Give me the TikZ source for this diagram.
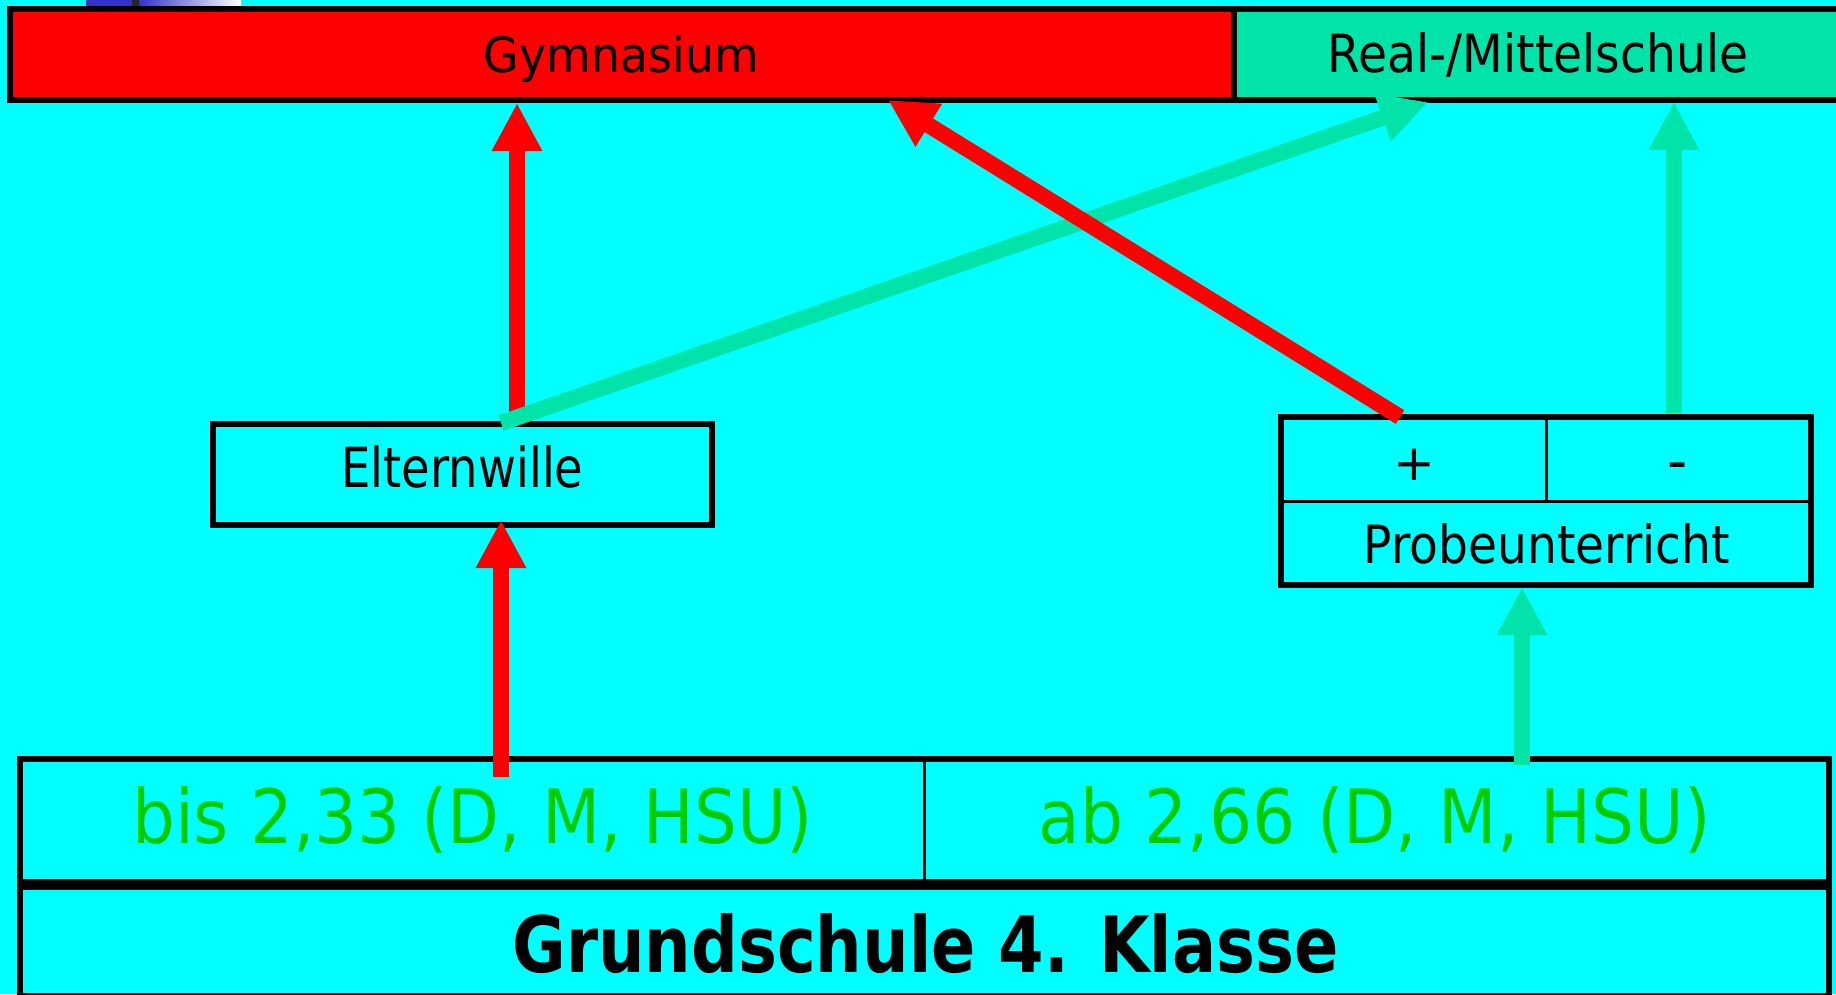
\documentclass[tikz,border=0pt]{standalone}
\usepackage{fontspec}
\setmainfont{DejaVu Sans}
\usepackage{graphicx}
\usetikzlibrary{arrows.meta}
\definecolor{bgcyan}{HTML}{00FFFF}
\definecolor{gymred}{HTML}{FF0000}
\definecolor{realgreen}{HTML}{00E4AA}
\definecolor{gradegreen}{HTML}{00CC00}
\definecolor{sliverblue}{HTML}{3333CC}
\begin{document}
\begin{tikzpicture}[x=1pt,y=-1pt,
  frame/.style={draw=black,line width=6pt},
  thinrule/.style={draw=black,line width=3pt},
  txt/.style={inner sep=0pt,anchor=base},
  redarrow/.style={draw=gymred,line width=16pt,-{Triangle[length=48pt,width=47pt]}},
  greenarrow/.style={draw=realgreen,line width=16pt,-{Triangle[length=48pt,width=47pt]}}]
\path[use as bounding box] (0,0) rectangle (1836,994);
\fill[bgcyan] (0,0) rectangle (1836,994);
\clip (0,0) rectangle (1836,994);
% sliver at the top left
\fill[sliverblue] (86,0) rectangle (132,6);
\fill[black!85] (132,0) rectangle (139,6);
\shade[left color=sliverblue,right color=white] (139,0) rectangle (241,6);
% top bar
\draw[frame,fill=gymred] (10,9) rectangle (1234,100);
\draw[frame,fill=realgreen] (1234,9) rectangle (1860,100);
\node[txt] (gym) at (621.5,72) {\resizebox{275pt}{37pt}{Gymnasium}};
\node[txt] (real) at (1538,72) {\resizebox{420pt}{40pt}{Real-/Mittelschule}};
% Elternwille
\draw[frame] (213,424) rectangle (712,525);
\node[txt] (elt) at (462.5,487) {\resizebox{242pt}{42pt}{Elternwille}};
% Probeunterricht
\draw[frame] (1281,417) rectangle (1811,585);
\draw[thinrule] (1281,501) -- (1811,501);
\draw[thinrule] (1546,417) -- (1546,501);
\node[inner sep=0pt] (plus) at (1414,464.5) {\fontsize{50}{60}\selectfont +};
\node[inner sep=0pt] (minus) at (1677.5,472) {\fontsize{56}{60}\selectfont -};
\node[txt] (probe) at (1547,563.3) {\resizebox{366pt}{40pt}{Probeunterricht}};
% bottom table
\draw[frame] (20,759) rectangle (1829,996);
\draw[black,line width=11pt] (20,884.5) -- (1829,884.5);
\draw[thinrule] (924.5,759) -- (924.5,884.5);
\node[txt,text=gradegreen] (bis) at (472.5,843) {\resizebox{680pt}{57pt}{bis 2,33 (D, M, HSU)}};
\node[txt,text=gradegreen] (ab) at (1374.5,843) {\resizebox{672pt}{57pt}{ab 2,66 (D, M, HSU)}};
\node[txt] (grund) at (925.5,972) {\resizebox{826pt}{59pt}{\bfseries Grundschule 4. Klasse}};
% arrow end points
\coordinate (bisTop) at (501,777);
\coordinate (eltBottom) at (501,520);
\coordinate (eltTopRed) at (517,423);
\coordinate (gymBottomLeft) at (517,103);
\coordinate (eltTopGreen) at (501,423);
\coordinate (realBottomLeft) at (1428,102);
\coordinate (plusTop) at (1400,417);
\coordinate (gymBottomRight) at (888,100);
\coordinate (abTop) at (1522,765);
\coordinate (probeBottom) at (1522,587);
\coordinate (minusTop) at (1674,413);
\coordinate (realBottomRight) at (1674,102);
% arrows
\draw[redarrow] (bisTop) -- (eltBottom);
\draw[redarrow] (eltTopRed) -- (gymBottomLeft);
\draw[greenarrow] (eltTopGreen) -- (realBottomLeft);
\draw[redarrow] (plusTop) -- (gymBottomRight);
\draw[greenarrow] (abTop) -- (probeBottom);
\draw[greenarrow] (minusTop) -- (realBottomRight);
\end{tikzpicture}
\end{document}
